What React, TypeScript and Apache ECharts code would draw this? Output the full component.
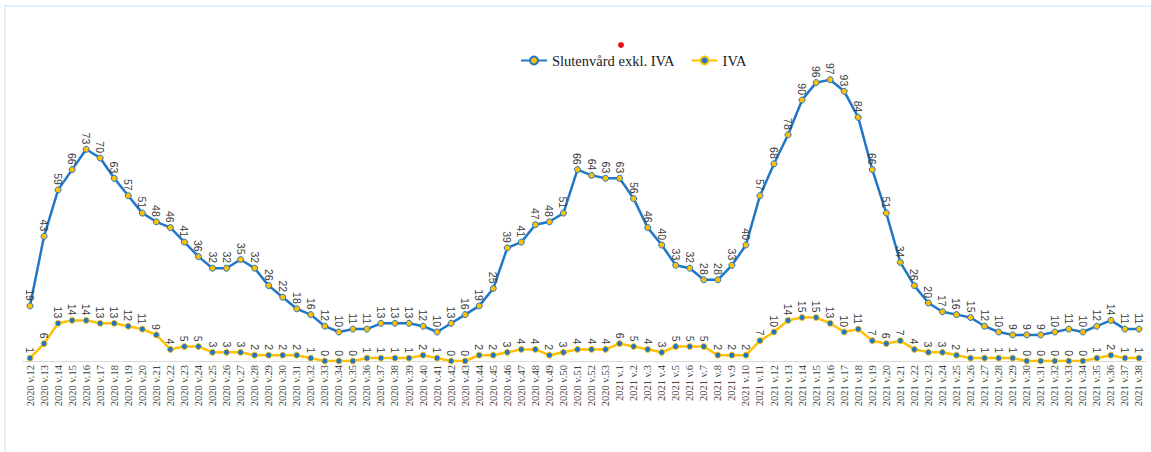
import React, { useEffect, useRef } from "react";
import * as echarts from "echarts";

const weeks2020: string[] = [
  "12","13","14","15","16","17","18","19","20","21","22","23","24","25","26","27","28","29","30","31",
  "32","33","34","35","36","37","38","39","40","41","42","43","44","45","46","47","48","49","50","51","52","53",
];
const weeks2021: string[] = [
  "1","2","3","4","5","6","7","8","9","10","11","12","13","14","15","16","17","18","19","20",
  "21","22","23","24","25","26","27","28","29","30","31","32","33","34","35","36","37","38",
];
const categories: string[] = [
  ...weeks2020.map((w) => `2020 v.${w}`),
  ...weeks2021.map((w) => `2021 v.${w}`),
];

const slutenvard: number[] = [
  19, 43, 59, 66, 73, 70, 63, 57, 51, 48, 46, 41, 36, 32, 32, 35, 32, 26, 22, 18,
  16, 12, 10, 11, 11, 13, 13, 13, 12, 10, 13, 16, 19, 25, 39, 41, 47, 48, 51, 66, 64, 63,
  63, 56, 46, 40, 33, 32, 28, 28, 33, 40, 57, 68, 78, 90, 96, 97, 93, 84, 66, 51,
  34, 26, 20, 17, 16, 15, 12, 10, 9, 9, 9, 10, 11, 10, 12, 14, 11, 11,
];
const iva: number[] = [
  1, 6, 13, 14, 14, 13, 13, 12, 11, 9, 4, 5, 5, 3, 3, 3, 2, 2, 2, 2,
  1, 0, 0, 0, 1, 1, 1, 1, 2, 1, 0, 0, 2, 2, 3, 4, 4, 2, 3, 4, 4, 4,
  6, 5, 4, 3, 5, 5, 5, 2, 2, 2, 7, 10, 14, 15, 15, 13, 10, 11, 7, 6,
  7, 4, 3, 3, 2, 1, 1, 1, 1, 0, 0, 0, 0, 0, 1, 2, 1, 1,
];

const BLUE = "#2177C7";
const YELLOW = "#FFC000";

function labelSeries(name: string, values: number[]) {
  return {
    name,
    type: "custom",
    data: values.map((v, i) => [i, v]),
    z: 5,
    silent: true,
    renderItem: (_params: any, api: any) => {
      const p = api.coord([api.value(0), api.value(1)]);
      return {
        type: "text",
        x: p[0],
        y: p[1] - 5,
        rotation: -Math.PI / 2,
        style: {
          text: String(api.value(1)),
          align: "right",
          verticalAlign: "middle",
          fill: "#3a3a3a",
          fontSize: 10.5,
          fontFamily: "Liberation Sans",
        },
      };
    },
  };
}

export default function App() {
  const ref = useRef<HTMLDivElement>(null);
  useEffect(() => {
    document.body.style.margin = "0";
    if (!ref.current) return;
    const chart = echarts.init(ref.current, undefined, { renderer: "svg" });
    chart.setOption({
      animation: false,
      backgroundColor: "#ffffff",
      graphic: [
        {
          type: "rect",
          shape: { x: 5, y: 6, width: 1170, height: 470 },
          style: { fill: "none", stroke: "#d9eefb", lineWidth: 1.5 },
          silent: true,
        },
        {
          type: "circle",
          shape: { cx: 621, cy: 45, r: 3 },
          style: { fill: "#e8101a" },
          silent: true,
        },
      ],
      legend: {
        top: 48,
        left: 515,
        itemWidth: 26,
        itemHeight: 10,
        itemGap: 16,
        textStyle: { fontFamily: "Liberation Serif", fontSize: 14.5, color: "#1a1a1a" },
        data: ["Slutenvård exkl. IVA", "IVA"],
      },
      grid: { left: 23, right: 5, top: 71, bottom: 91, containLabel: false },
      xAxis: {
        type: "category",
        data: categories,
        boundaryGap: true,
        axisLine: { show: true, lineStyle: { color: "#d9d9d9" } },
        axisTick: { show: false },
        axisLabel: {
          interval: 0,
          rotate: 90,
          margin: 4,
          fontFamily: "Liberation Serif",
          fontSize: 10.5,
          color: "#444444",
        },
      },
      yAxis: {
        type: "value",
        min: 0,
        max: 100,
        show: false,
        splitLine: { show: false },
      },
      series: [
        {
          name: "Slutenvård exkl. IVA",
          type: "line",
          data: slutenvard,
          symbol: "circle",
          symbolSize: 6,
          lineStyle: { color: BLUE, width: 2.5 },
          itemStyle: { color: YELLOW, borderColor: BLUE, borderWidth: 1 },
          z: 3,
        },
        {
          name: "IVA",
          type: "line",
          data: iva,
          symbol: "circle",
          symbolSize: 6,
          lineStyle: { color: YELLOW, width: 2.5 },
          itemStyle: { color: BLUE, borderColor: YELLOW, borderWidth: 1 },
          z: 2,
        },
        labelSeries("Slutenvård etiketter", slutenvard),
        labelSeries("IVA etiketter", iva),
      ],
    });
    return () => chart.dispose();
  }, []);
  return <div ref={ref} style={{ width: 1151, height: 452 }} />;
}
